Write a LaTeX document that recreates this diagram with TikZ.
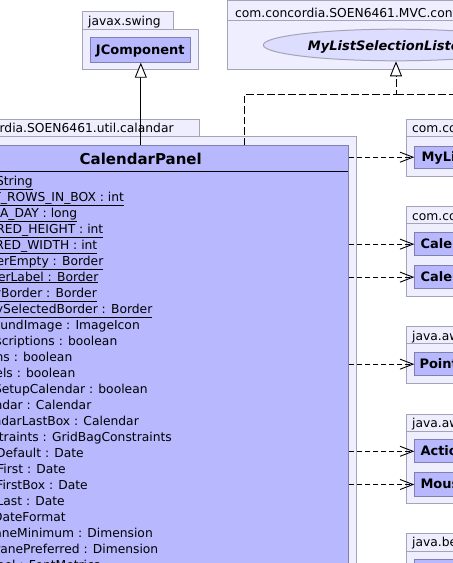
\documentclass[tikz,border=0pt]{standalone}
\usepackage{fontspec}
\setmainfont{DejaVu Sans}
\usetikzlibrary{arrows.meta,shapes.geometric}
\definecolor{pkgfill}{RGB}{238,238,255}
\definecolor{pkgline}{RGB}{164,164,184}
\definecolor{clsfill}{RGB}{184,184,255}
\definecolor{clsline}{RGB}{128,128,176}
\definecolor{ifcfill}{RGB}{221,221,255}
\tikzset{
  pkgbox/.style={draw=pkgline,fill=pkgfill,line width=1pt},
  clsbox/.style={draw=clsline,fill=clsfill,line width=1pt,rectangle,inner sep=0pt,anchor=north west},
  pkgname/.style={font=\fontsize{12.3}{14}\selectfont,inner sep=0pt},
  clsname/.style={font=\fontsize{13}{15}\bfseries\selectfont,inner sep=0pt},
  attr/.style={font=\fontsize{12.3}{14}\selectfont,inner sep=0pt,anchor=base east},
  dep/.style={draw=black,line width=0.9pt,dash pattern=on 5pt off 3pt,-{Straight Barb[length=13pt,width=10pt]}},
  real/.style={draw=black,line width=0.9pt,dash pattern=on 7.5pt off 3pt},
  inh/.style={draw=black,line width=0.9pt},
  hollow/.style={-{Triangle[open,length=15pt,width=12pt,fill=white]}}
}
\begin{document}
\begin{tikzpicture}[x=1pt,y=-1pt]
\useasboundingbox (0,0) rectangle (453,563);
\clip (0,0) rectangle (453,563);
\fill[white] (0,0) rectangle (453,563);

% ---- javax.swing package
\draw[pkgbox] (82.7,11.7) rectangle (173,29.3);
\draw[pkgbox] (82.7,29.3) rectangle (198.7,69.3);
\node[pkgname,anchor=base west] (pswing) at (88,25.5) {javax.swing};
\node[clsbox,minimum width=100pt,minimum height=24.4pt] (jc) at (90.3,37.3) {};
\node[clsname,anchor=base] (jct) at (140.3,54.5) {JComponent};

% ---- MVC package with interface
\draw[pkgbox] (227.3,0.7) rectangle (480,20.7);
\draw[pkgbox] (227.3,20.7) rectangle (480,69);
\node[pkgname,anchor=base west] (pmvc) at (235,17) {com.concordia.SOEN6461.MVC.controller};
\node[ellipse,draw=pkgline,fill=ifcfill,line width=1pt,minimum width=265.4pt,minimum height=31.6pt,inner sep=0pt] (mlsl) at (396,45) {};
\node[font=\fontsize{13}{15}\bfseries\itshape\selectfont,inner sep=0pt,anchor=base] (mlslt) at (396,50.7) {MyListSelectionListener};

% ---- calendar package
\draw[pkgbox] (-80,119.3) rectangle (199.3,136);
\draw[pkgbox] (-80,136) rectangle (356.7,620);
\node[pkgname,anchor=base east] (pcal) at (173.8,132.3) {com.concordia.SOEN6461.util.calandar};
\node[clsbox,minimum width=415.3pt,minimum height=480pt] (cp) at (-67,145) {};
\draw[black,line width=0.9pt] (-67,171.3) -- (348.3,171.3);
\node[font=\fontsize{15}{17}\bfseries\selectfont,inner sep=0pt,anchor=base] (cpt) at (140.7,164) {CalendarPanel};

\foreach \ex/\txt [count=\i from 0] in {
  33/{VERSION : String},
  124.2/{DEFAULT\_ROWS\_IN\_BOX : int},
  77.5/{MILLIS\_IN\_A\_DAY : long},
  103.5/{PREFERRED\_HEIGHT : int},
  97.5/{PREFERRED\_WIDTH : int},
  103.5/{borderEmpty : Border},
  98.5/{borderLabel : Border},
  97/{dayBorder : Border},
  152.5/{daySelectedBorder : Border}}
  {\node[attr] (u\i) at (\ex,185+16*\i) {\underline{\txt}};}

\foreach \ex/\txt [count=\i from 9] in {
  140/{backgroundImage : ImageIcon},
  117.5/{showDescriptions : boolean},
  72.5/{showIcons : boolean},
  75.5/{showLabels : boolean},
  147.8/{needSetupCalendar : boolean},
  91.5/{calendar : Calendar},
  139/{calendarLastBox : Calendar},
  172/{constraints : GridBagConstraints},
  84/{dateDefault : Date},
  66/{dateFirst : Date},
  88/{dateFirstBox : Date},
  65/{dateLast : Date},
  66/{dateFormat : DateFormat},
  153/{scrollPaneMinimum : Dimension},
  158.5/{scrollPanePreferred : Dimension},
  100.5/{fontMetricsLabel : FontMetrics}}
  {\node[attr] (a\i) at (\ex,185+16*\i) {\txt};}

% ---- right packages
% 1
\draw[pkgbox] (406,119) rectangle (480,136);
\draw[pkgbox] (406,136) rectangle (480,176);
\node[pkgname,anchor=base west] (p1) at (412,132.3) {com.concordia.SOEN6461.MVC.model};
\node[clsbox,minimum width=106pt,minimum height=22pt] (c1) at (414.3,145.7) {};
\node[clsname,anchor=base west] (c1t) at (421.3,161.4) {MyListModel};
% 2
\draw[pkgbox] (406,206.7) rectangle (480,223.3);
\draw[pkgbox] (406,223.3) rectangle (480,296);
\node[pkgname,anchor=base west] (p2) at (412,220) {com.concordia.SOEN6461.util.calendar};
\node[clsbox,minimum width=106pt,minimum height=22.7pt] (c2) at (414.3,232.3) {};
\node[clsname,anchor=base west] (c2t) at (420.3,248.4) {CalendarDay};
\node[clsbox,minimum width=106pt,minimum height=23.3pt] (c3) at (414.3,265) {};
\node[clsname,anchor=base west] (c3t) at (420.3,281.4) {CalendarEvent};
% 3
\draw[pkgbox] (406,326.7) rectangle (480,343.3);
\draw[pkgbox] (406,343.3) rectangle (480,383.3);
\node[pkgname,anchor=base west] (p3) at (412,340) {java.awt};
\node[clsbox,minimum width=106pt,minimum height=22.7pt] (c4) at (414.3,352.3) {};
\node[clsname,anchor=base west] (c4t) at (419.3,368.4) {Point};
% 4
\draw[pkgbox] (406,414) rectangle (480,431.7);
\draw[pkgbox] (406,431.7) rectangle (480,503.3);
\node[pkgname,anchor=base west] (p4) at (412,427.3) {java.awt.event};
\node[clsbox,minimum width=106pt,minimum height=23pt] (c5) at (414.3,439.3) {};
\node[clsname,anchor=base west] (c5t) at (420.3,455.5) {ActionListener};
\node[clsbox,minimum width=106pt,minimum height=23.4pt] (c6) at (414.3,472.3) {};
\node[clsname,anchor=base west] (c6t) at (420.3,488.7) {MouseListener};
% 5
\draw[pkgbox] (406,533) rectangle (480,551);
\draw[pkgbox] (406,551) rectangle (480,620);
\node[pkgname,anchor=base west] (p5) at (412,546.3) {java.beans};
\node[clsbox,minimum width=106pt,minimum height=23pt] (c7) at (414.3,559.3) {};

% ---- connectors
\draw[inh,hollow] (jc.south |- cp.north) -- (jc.south);
\coordinate (rstart) at (244.3,145);
\coordinate (rbend) at (mlsl.south |- 0,94.3);
\coordinate (rend) at (470,94.3);
\draw[real,hollow] (rstart) |- (rbend) -- (mlsl.south);
\draw[real] (rbend) -- (rend);
\foreach \c in {c1,c2,c3,c4,c5,c6}
  \draw[dep] (cp.east |- \c.west) -- (\c.west);
\end{tikzpicture}
\end{document}
